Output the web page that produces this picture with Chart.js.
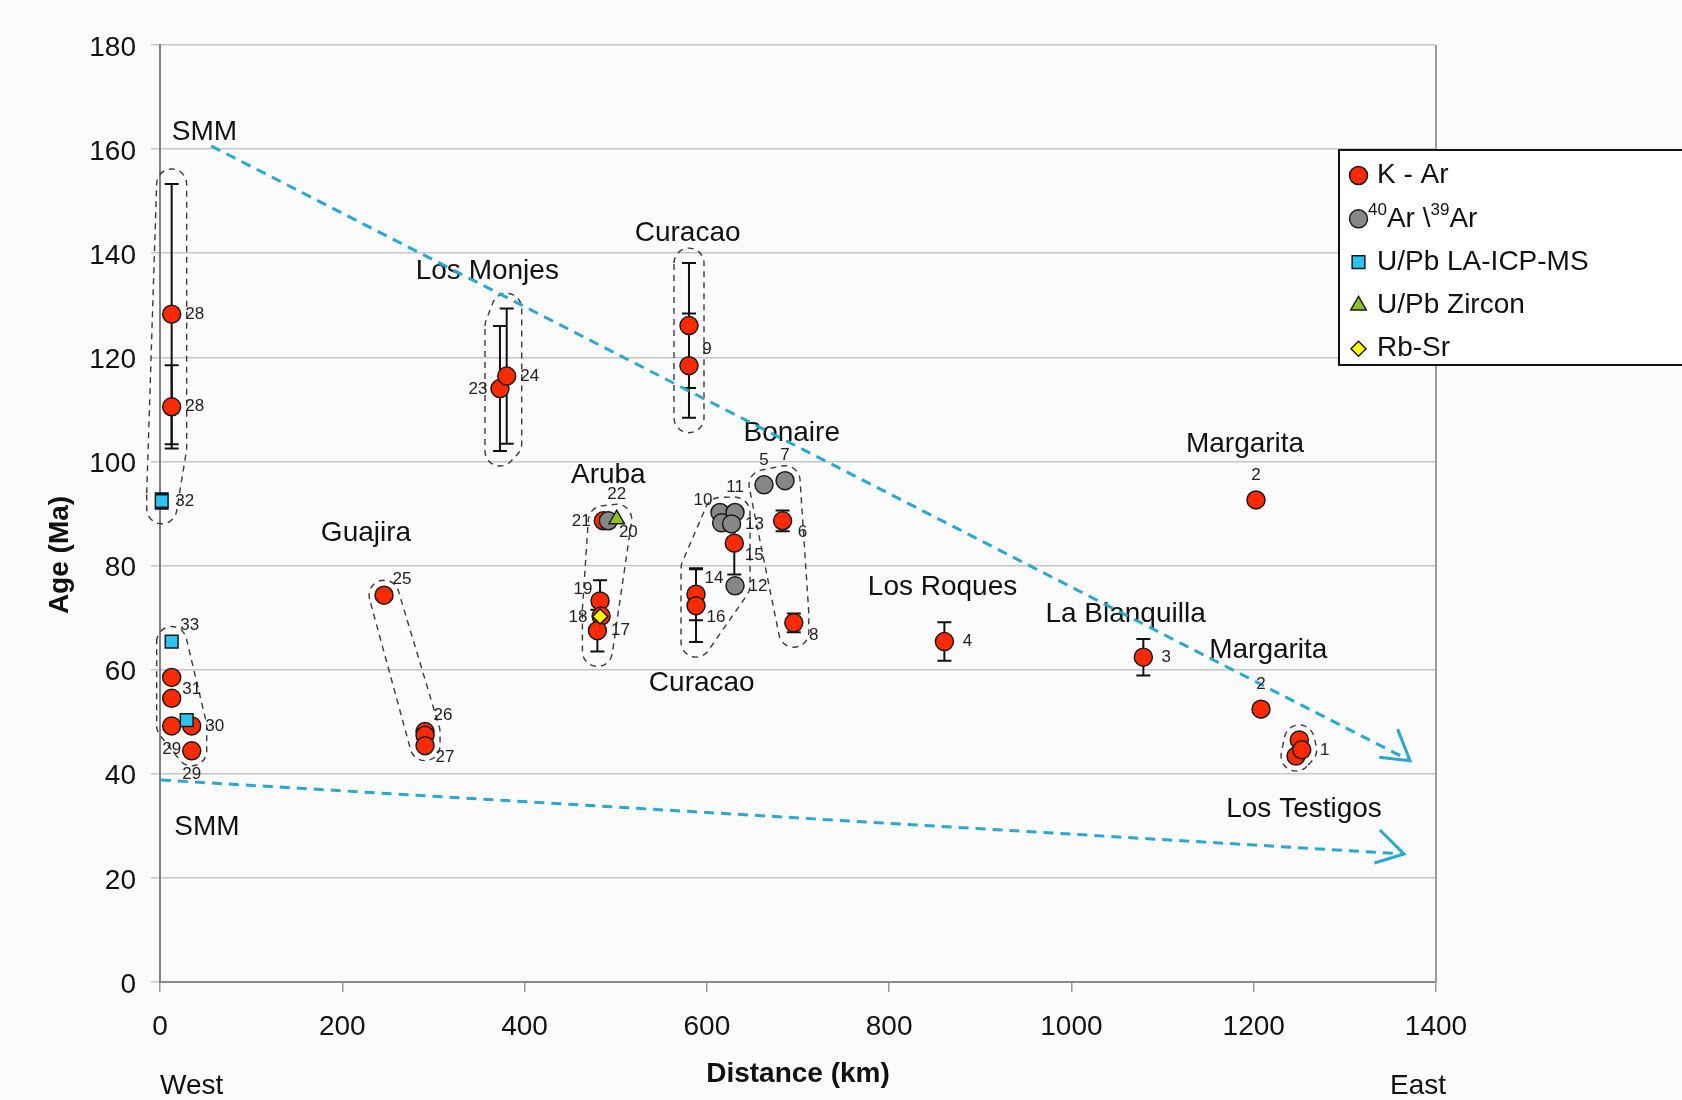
<!DOCTYPE html>
<html>
<head>
<meta charset="utf-8">
<title>Age vs distance</title>
<script src="https://cdn.jsdelivr.net/npm/chart.js@4.4.1/dist/chart.umd.min.js"></script>
<style>
  html, body { margin: 0; padding: 0; background: #fbfbfb; }
  canvas { display: block; }
</style>
</head>
<body>
<canvas id="age_plot" width="1682" height="1100"></canvas>
<script>
const FONT = "'Liberation Sans', Arial, Helvetica, sans-serif";

// rows: [distance (km), age (Ma), ± error (Ma), sample no., island group]
const kArAges = [
  [12.8, 128.3, 25, "28", "smmA"],
  [12.8, 110.5, 8, "28", "smmA"],
  [12.8, 58.5, null, "31", "smmB"],
  [12.8, 54.5, null, "", "smmB"],
  [12.8, 49.2, null, "29", "smmB"],
  [34.8, 49.2, null, "30", "smmB"],
  [34.8, 44.4, null, "29", "smmB"],
  [245.8, 74.3, null, "25", "guajira"],
  [290.8, 48.1, null, "26", "guajira"],
  [290.8, 47.4, null, "", "guajira"],
  [290.8, 45.4, null, "27", "guajira"],
  [373.0, 114.0, 12, "23", "monjes"],
  [380.4, 116.4, 13, "24", "monjes"],
  [580.4, 126.1, 12, "", "curacaoA"],
  [580.4, 118.4, 10, "9", "curacaoA"],
  [486.4, 88.6, null, "21", "aruba"],
  [482.8, 73.2, 4, "19", "aruba"],
  [484.0, 70.3, null, "", "aruba"],
  [479.9, 67.5, 4, "17", "aruba"],
  [588.1, 74.5, 5, "14", "curacaoB"],
  [588.1, 72.3, 7, "16", "curacaoB"],
  [630.1, 84.3, 6, "15", "curacaoB"],
  [683.1, 88.6, 2, "6", "bonaire"],
  [695.4, 69.0, 1.8, "8", "bonaire"],
  [860.6, 65.4, 3.7, "4", null],
  [1078.9, 62.4, 3.5, "3", null],
  [1202.5, 92.6, null, "2", null],
  [1208.0, 52.4, null, "2", null],
  [1250.0, 46.5, null, "", "testigos"],
  [1246.4, 43.4, null, "", "testigos"],
  [1252.7, 44.6, null, "1", "testigos"]
];
const kArTagSide = ["r", "r", "br", "", "b", "r", "b", "tr", "tr", "", "br", "l", "r", "", "tr",
  "l", "tl", "", "r", "tr", "br", "br", "br", "br", "r", "r", "t", "t", "", "", "r"];

const arArAges = [
  [491.9, 88.6, null, "20", "aruba"],
  [614.4, 90.2, null, "10", "curacaoB"],
  [630.9, 90.2, null, "11", "curacaoB"],
  [616.2, 88.2, null, "", "curacaoB"],
  [627.1, 88.0, null, "13", "curacaoB"],
  [630.9, 76.1, null, "12", "curacaoB"],
  [662.7, 95.5, null, "5", "bonaire"],
  [685.8, 96.3, null, "7", "bonaire"]
];
const arArTagSide = ["br", "tl", "t", "", "r", "r", "t", "t"];

const uPbLaAges = [
  [1.9, 92.4, 1.5, "32", "smmA"],
  [12.8, 65.4, null, "33", "smmB"],
  [29.3, 50.3, null, "", "smmB"]
];
const uPbLaTagSide = ["r", "tr", ""];

const uPbZirconAges = [[501.1, 88.9, null, "22", "aruba"]];
const uPbZirconTagSide = ["t"];

const rbSrAges = [[482.8, 70.2, null, "18", "aruba"]];
const rbSrTagSide = ["l"];

// age trends from the Sierra Madre de Merida (SMM) eastwards
const olderTrendKm = [56.3, 1371.5];
const olderTrendMa = [160.6, 42.5];
const youngerTrendKm = [1.1, 1364.9];
const youngerTrendMa = [38.8, 24.6];

// [name, distance (km), age (Ma)]
const regionLabels = [
  ["SMM", 48.8, 163.2],
  ["SMM", 51.6, 29.7],
  ["Curacao", 578.9, 143.9],
  ["Los Monjes", 359.1, 136.6],
  ["Aruba", 491.9, 97.4],
  ["Bonaire", 693.1, 105.5],
  ["Guajira", 226.0, 86.2],
  ["Curacao", 594.4, 57.3],
  ["Los Roques", 858.6, 75.9],
  ["La Blanquilla", 1059.4, 70.7],
  ["Margarita", 1190.5, 103.3],
  ["Margarita", 1216.0, 63.8],
  ["Los Testigos", 1255.2, 33.2]
];

const distanceTicks = [0, 200, 400, 600, 800, 1000, 1200, 1400];
const ageTicks = [0, 20, 40, 60, 80, 100, 120, 140, 160, 180];

const series = [
  { label: "K - Ar", rows: kArAges, sides: kArTagSide, style: "circle", radius: 9, color: "#ff2a00" },
  { label: "^40Ar \\^39Ar", rows: arArAges, sides: arArTagSide, style: "circle", radius: 9, color: "#878787" },
  { label: "U/Pb LA-ICP-MS", rows: uPbLaAges, sides: uPbLaTagSide, style: "rect", radius: 9, color: "#2cc3f3" },
  { label: "U/Pb Zircon", rows: uPbZirconAges, sides: uPbZirconTagSide, style: "triangle", radius: 9, color: "#8cc21c" },
  { label: "Rb-Sr", rows: rbSrAges, sides: rbSrTagSide, style: "rectRot", radius: 7.5, color: "#ffff00" }
];

const tagOffset = { r: [23, 0], l: [-22, 1], t: [0, -25], b: [0, 23], tr: [18, -16], br: [20, 12], tl: [-17, -12] };
const TREND_COLOR = "#2aa7d3";

function toPx(chart, km, ma) {
  return { x: chart.scales.x.getPixelForValue(km), y: chart.scales.y.getPixelForValue(ma) };
}

function hull(points) {
  const seen = new Set();
  const pts = points.filter(p => {
    const k = Math.round(p.x * 10) + "," + Math.round(p.y * 10);
    if (seen.has(k)) return false;
    seen.add(k);
    return true;
  }).sort((a, b) => a.x - b.x || a.y - b.y);
  if (pts.length < 3) return pts;
  const cross = (o, a, b) => (a.x - o.x) * (b.y - o.y) - (a.y - o.y) * (b.x - o.x);
  const lower = [];
  for (const p of pts) {
    while (lower.length >= 2 && cross(lower[lower.length - 2], lower[lower.length - 1], p) <= 0) lower.pop();
    lower.push(p);
  }
  const upper = [];
  for (let i = pts.length - 1; i >= 0; i--) {
    const p = pts[i];
    while (upper.length >= 2 && cross(upper[upper.length - 2], upper[upper.length - 1], p) <= 0) upper.pop();
    upper.push(p);
  }
  upper.pop();
  lower.pop();
  const h = lower.concat(upper);
  return h.length ? h : [pts[0]];
}

// dashed rounded outline around a group of samples
function drawOutline(ctx, pts, r) {
  const h = hull(pts);
  const normal = (a, b) => Math.atan2(-(b.x - a.x), b.y - a.y);
  ctx.beginPath();
  if (h.length === 1) {
    ctx.arc(h[0].x, h[0].y, r, 0, Math.PI * 2);
  } else {
    const n = h.length;
    for (let i = 0; i < n; i++) {
      const prev = h[(i + n - 1) % n], cur = h[i], next = h[(i + 1) % n];
      ctx.arc(cur.x, cur.y, r, normal(prev, cur), normal(cur, next));
    }
    ctx.closePath();
  }
  ctx.stroke();
}

function drawMarker(ctx, s, x, y) {
  const r = s.radius;
  ctx.beginPath();
  if (s.style === "circle") {
    ctx.arc(x, y, r, 0, Math.PI * 2);
  } else if (s.style === "rect") {
    const h = Math.SQRT1_2 * r;
    ctx.rect(x - h, y - h, 2 * h, 2 * h);
  } else if (s.style === "triangle") {
    ctx.moveTo(x, y - r);
    ctx.lineTo(x + 0.866 * r, y + 0.5 * r);
    ctx.lineTo(x - 0.866 * r, y + 0.5 * r);
    ctx.closePath();
  } else {
    ctx.moveTo(x, y - r);
    ctx.lineTo(x + r, y);
    ctx.lineTo(x, y + r);
    ctx.lineTo(x - r, y);
    ctx.closePath();
  }
  ctx.fillStyle = s.color;
  ctx.fill();
  ctx.lineWidth = 1.5;
  ctx.strokeStyle = "#1a1a1a";
  ctx.stroke();
}

// draws "^40Ar" style labels with superscript numbers
function drawRichText(ctx, text, x, y, size) {
  const parts = text.split(/(\^\d+)/).filter(Boolean);
  let cx = x;
  for (const part of parts) {
    const sup = part.startsWith("^");
    const t = sup ? part.slice(1) : part;
    ctx.font = (sup ? Math.round(size * 0.6) : size) + "px " + FONT;
    ctx.fillText(t, cx, sup ? y - size * 0.32 : y);
    cx += ctx.measureText(t).width;
  }
}

const backdrop = {
  id: "backdrop",
  beforeDraw(chart) {
    const ctx = chart.ctx;
    ctx.save();
    ctx.fillStyle = "#fbfbfb";
    ctx.fillRect(0, 0, chart.width, chart.height);
    ctx.restore();
  }
};

const annotations = {
  id: "annotations",
  beforeDatasetsDraw(chart) {
    const ctx = chart.ctx;
    const area = chart.chartArea;
    ctx.save();

    // right edge of the plot frame
    ctx.strokeStyle = "#9a9a9a";
    ctx.lineWidth = 2;
    ctx.beginPath();
    ctx.moveTo(area.right, area.top);
    ctx.lineTo(area.right, area.bottom);
    ctx.stroke();

    // island names
    ctx.fillStyle = "#111";
    ctx.font = "28px " + FONT;
    ctx.textAlign = "center";
    ctx.textBaseline = "middle";
    for (const [name, km, ma] of regionLabels) {
      const p = toPx(chart, km, ma);
      ctx.fillText(name, p.x, p.y);
    }

    // group outlines
    const groups = {};
    for (const s of series) {
      for (const [km, ma, err, , group] of s.rows) {
        if (!group) continue;
        const list = groups[group] || (groups[group] = []);
        list.push(toPx(chart, km, ma));
        if (err) {
          list.push(toPx(chart, km, ma + err));
          list.push(toPx(chart, km, ma - err));
        }
      }
    }
    ctx.strokeStyle = "#3a3a3a";
    ctx.lineWidth = 1.4;
    ctx.setLineDash([6, 5]);
    for (const name in groups) drawOutline(ctx, groups[name], 15);
    ctx.setLineDash([]);

    // error bars
    ctx.strokeStyle = "#111";
    ctx.lineWidth = 2;
    for (const s of series) {
      for (const [km, ma, err] of s.rows) {
        if (!err) continue;
        const top = toPx(chart, km, ma + err);
        const bottom = toPx(chart, km, ma - err);
        ctx.beginPath();
        ctx.moveTo(top.x, top.y);
        ctx.lineTo(bottom.x, bottom.y);
        ctx.moveTo(top.x - 7, top.y);
        ctx.lineTo(top.x + 7, top.y);
        ctx.moveTo(bottom.x - 7, bottom.y);
        ctx.lineTo(bottom.x + 7, bottom.y);
        ctx.stroke();
      }
    }
    ctx.restore();
  },
  afterDatasetsDraw(chart) {
    const ctx = chart.ctx;
    ctx.save();

    // open arrow heads at the end of each trend line
    ctx.strokeStyle = TREND_COLOR;
    ctx.lineWidth = 3;
    for (const [kms, mas] of [[olderTrendKm, olderTrendMa], [youngerTrendKm, youngerTrendMa]]) {
      const a = toPx(chart, kms[0], mas[0]);
      const tip = toPx(chart, kms[kms.length - 1], mas[mas.length - 1]);
      const back = Math.atan2(a.y - tip.y, a.x - tip.x);
      const arms = [[back + 41.5 * Math.PI / 180, 34], [back - 20.5 * Math.PI / 180, 31]];
      ctx.beginPath();
      ctx.moveTo(tip.x + Math.cos(arms[0][0]) * arms[0][1], tip.y + Math.sin(arms[0][0]) * arms[0][1]);
      ctx.lineTo(tip.x, tip.y);
      ctx.lineTo(tip.x + Math.cos(arms[1][0]) * arms[1][1], tip.y + Math.sin(arms[1][0]) * arms[1][1]);
      ctx.stroke();
    }

    // sample numbers
    ctx.fillStyle = "#222";
    ctx.font = "17px " + FONT;
    ctx.textAlign = "center";
    ctx.textBaseline = "middle";
    for (const s of series) {
      s.rows.forEach(([km, ma, , tag], i) => {
        const side = s.sides[i];
        if (!tag || !side) return;
        const p = toPx(chart, km, ma);
        const [dx, dy] = tagOffset[side];
        ctx.fillText(tag, p.x + dx, p.y + dy);
      });
    }
    ctx.restore();
  },
  afterDraw(chart) {
    const ctx = chart.ctx;
    const area = chart.chartArea;
    ctx.save();
    ctx.fillStyle = "#111";
    ctx.textBaseline = "middle";

    // axis titles
    ctx.font = "bold 28px " + FONT;
    ctx.textAlign = "center";
    ctx.fillText("Distance (km)", (area.left + area.right) / 2, 1074);
    ctx.save();
    ctx.translate(60, 555);
    ctx.rotate(-Math.PI / 2);
    ctx.fillText("Age (Ma)", 0, 0);
    ctx.restore();

    ctx.font = "28px " + FONT;
    ctx.textAlign = "left";
    ctx.fillText("West", area.left, 1086);
    ctx.textAlign = "right";
    ctx.fillText("East", area.right + 10, 1086);

    // legend box, running off the right edge
    ctx.fillStyle = "#ffffff";
    ctx.fillRect(1339, 150, 400, 215);
    ctx.strokeStyle = "#111";
    ctx.lineWidth = 2;
    ctx.strokeRect(1339, 150, 400, 215);
    ctx.textAlign = "left";
    series.forEach((s, i) => {
      const y = 175.5 + i * 43.3;
      drawMarker(ctx, s, 1358.5, y);
      ctx.fillStyle = "#111";
      const x = s.label.startsWith("^") ? 1368 : 1377;
      drawRichText(ctx, s.label, x, y, 28);
    });
    ctx.restore();
  }
};

const pointDataset = (s, order) => ({
  type: "scatter",
  label: s.label,
  data: s.rows.map(([km, ma]) => ({ x: km, y: ma })),
  pointStyle: s.style,
  pointRadius: s.radius,
  pointBackgroundColor: s.color,
  pointBorderColor: "#1a1a1a",
  pointBorderWidth: 1.5,
  clip: false,
  order: order
});

const trendDataset = (kms, mas) => ({
  type: "line",
  data: kms.map((km, i) => ({ x: km, y: mas[i] })),
  borderColor: TREND_COLOR,
  borderWidth: 3,
  borderDash: [10, 7],
  pointRadius: 0,
  fill: false,
  order: 10
});

Chart.defaults.font.family = FONT;
Chart.defaults.font.size = 28;
Chart.defaults.color = "#111";

new Chart(document.getElementById("age_plot"), {
  data: {
    datasets: [
      pointDataset(series[4], 1),
      pointDataset(series[3], 2),
      pointDataset(series[2], 3),
      pointDataset(series[1], 4),
      pointDataset(series[0], 5),
      trendDataset(olderTrendKm, olderTrendMa),
      trendDataset(youngerTrendKm, youngerTrendMa)
    ]
  },
  options: {
    responsive: false,
    animation: false,
    events: [],
    layout: { padding: { top: 45, right: 246, left: 0, bottom: 0 } },
    plugins: { legend: { display: false }, tooltip: { enabled: false } },
    scales: {
      x: {
        type: "linear",
        position: "bottom",
        min: 0,
        max: 1400,
        afterBuildTicks: scale => { scale.ticks = distanceTicks.map(v => ({ value: v })); },
        afterFit: scale => { scale.height = 118; },
        ticks: { padding: 18, color: "#111", callback: v => String(v) },
        grid: { drawOnChartArea: false, tickLength: 10, color: "#9a9a9a", lineWidth: 1.5 },
        border: { color: "#8a8a8a", width: 2 }
      },
      y: {
        type: "linear",
        min: 0,
        max: 180,
        afterBuildTicks: scale => { scale.ticks = ageTicks.map(v => ({ value: v })); },
        afterFit: scale => { scale.width = 160; },
        ticks: { padding: 15, labelOffset: 3, color: "#111", callback: v => String(v) },
        grid: { color: "#c6c6c6", lineWidth: 1.5, tickLength: 9 },
        border: { color: "#808080", width: 2 }
      }
    }
  },
  plugins: [backdrop, annotations]
});
</script>
</body>
</html>
